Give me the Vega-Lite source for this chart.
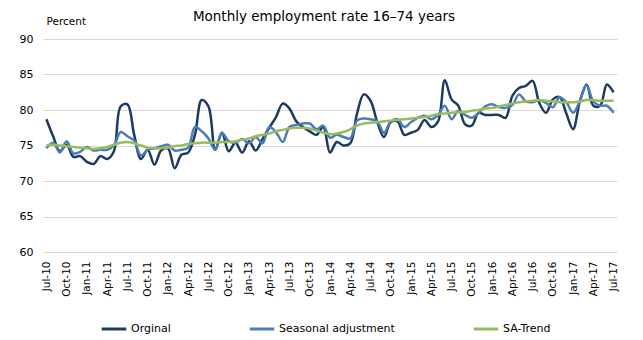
{
  "$schema": "https://vega.github.io/schema/vega-lite/v6.json",
  "autosize": {"type": "none"},
  "width": 574,
  "height": 213,
  "padding": {"left": 43, "top": 39, "right": 26, "bottom": 88},
  "background": "white",
  "title": {
    "text": "Monthly employment rate 16–74 years",
    "font": "DejaVu Sans",
    "fontSize": 13.5,
    "fontWeight": "normal",
    "color": "#000000",
    "anchor": "middle",
    "frame": "group",
    "offset": 14,
    "dx": -6,
    "dy": 21
  },
  "data": {
    "values": [
      {"m":"Jul-10","Orginal":78.7,"Seasonal adjustment":74.6,"SA-Trend":75.0},
      {"m":"Aug-10","Orginal":76.3,"Seasonal adjustment":75.4,"SA-Trend":75.1},
      {"m":"Sep-10","Orginal":74.2,"Seasonal adjustment":74.0,"SA-Trend":75.0},
      {"m":"Oct-10","Orginal":75.1,"Seasonal adjustment":75.6,"SA-Trend":74.9},
      {"m":"Nov-10","Orginal":73.4,"Seasonal adjustment":73.9,"SA-Trend":74.8},
      {"m":"Dec-10","Orginal":73.5,"Seasonal adjustment":74.1,"SA-Trend":74.7},
      {"m":"Jan-11","Orginal":72.7,"Seasonal adjustment":74.8,"SA-Trend":74.6},
      {"m":"Feb-11","Orginal":72.4,"Seasonal adjustment":74.3,"SA-Trend":74.5},
      {"m":"Mar-11","Orginal":73.5,"Seasonal adjustment":74.4,"SA-Trend":74.6},
      {"m":"Apr-11","Orginal":73.1,"Seasonal adjustment":74.4,"SA-Trend":74.8},
      {"m":"May-11","Orginal":74.2,"Seasonal adjustment":75.0,"SA-Trend":75.1},
      {"m":"Jun-11","Orginal":80.5,"Seasonal adjustment":76.9,"SA-Trend":75.4},
      {"m":"Jul-11","Orginal":80.8,"Seasonal adjustment":76.3,"SA-Trend":75.5},
      {"m":"Aug-11","Orginal":76.5,"Seasonal adjustment":75.7,"SA-Trend":75.3},
      {"m":"Sep-11","Orginal":73.1,"Seasonal adjustment":73.6,"SA-Trend":75.0},
      {"m":"Oct-11","Orginal":74.4,"Seasonal adjustment":74.4,"SA-Trend":74.7},
      {"m":"Nov-11","Orginal":72.3,"Seasonal adjustment":74.6,"SA-Trend":74.6},
      {"m":"Dec-11","Orginal":74.3,"Seasonal adjustment":74.9,"SA-Trend":74.6},
      {"m":"Jan-12","Orginal":74.6,"Seasonal adjustment":75.1,"SA-Trend":74.7},
      {"m":"Feb-12","Orginal":71.8,"Seasonal adjustment":74.3,"SA-Trend":74.9},
      {"m":"Mar-12","Orginal":73.7,"Seasonal adjustment":74.4,"SA-Trend":75.0},
      {"m":"Apr-12","Orginal":74.0,"Seasonal adjustment":74.7,"SA-Trend":75.2},
      {"m":"May-12","Orginal":76.5,"Seasonal adjustment":77.6,"SA-Trend":75.3},
      {"m":"Jun-12","Orginal":81.4,"Seasonal adjustment":77.0,"SA-Trend":75.4},
      {"m":"Jul-12","Orginal":80.5,"Seasonal adjustment":76.0,"SA-Trend":75.4},
      {"m":"Aug-12","Orginal":74.4,"Seasonal adjustment":74.4,"SA-Trend":75.4},
      {"m":"Sep-12","Orginal":76.8,"Seasonal adjustment":76.8,"SA-Trend":75.5},
      {"m":"Oct-12","Orginal":74.2,"Seasonal adjustment":75.6,"SA-Trend":75.5},
      {"m":"Nov-12","Orginal":75.4,"Seasonal adjustment":75.4,"SA-Trend":75.6},
      {"m":"Dec-12","Orginal":74.0,"Seasonal adjustment":75.9,"SA-Trend":75.8},
      {"m":"Jan-13","Orginal":75.6,"Seasonal adjustment":75.3,"SA-Trend":76.0},
      {"m":"Feb-13","Orginal":74.3,"Seasonal adjustment":76.2,"SA-Trend":76.3},
      {"m":"Mar-13","Orginal":75.9,"Seasonal adjustment":75.3,"SA-Trend":76.5},
      {"m":"Apr-13","Orginal":77.5,"Seasonal adjustment":77.6,"SA-Trend":76.7},
      {"m":"May-13","Orginal":79.0,"Seasonal adjustment":76.9,"SA-Trend":77.0},
      {"m":"Jun-13","Orginal":80.9,"Seasonal adjustment":75.5,"SA-Trend":77.2},
      {"m":"Jul-13","Orginal":80.2,"Seasonal adjustment":77.6,"SA-Trend":77.4},
      {"m":"Aug-13","Orginal":78.4,"Seasonal adjustment":77.9,"SA-Trend":77.5},
      {"m":"Sep-13","Orginal":77.6,"Seasonal adjustment":78.1,"SA-Trend":77.5},
      {"m":"Oct-13","Orginal":77.0,"Seasonal adjustment":78.1,"SA-Trend":77.4},
      {"m":"Nov-13","Orginal":76.5,"Seasonal adjustment":77.3,"SA-Trend":77.1},
      {"m":"Dec-13","Orginal":77.6,"Seasonal adjustment":77.8,"SA-Trend":76.8},
      {"m":"Jan-14","Orginal":74.0,"Seasonal adjustment":76.1,"SA-Trend":76.6},
      {"m":"Feb-14","Orginal":75.5,"Seasonal adjustment":76.5,"SA-Trend":76.7},
      {"m":"Mar-14","Orginal":75.0,"Seasonal adjustment":76.2,"SA-Trend":76.9},
      {"m":"Apr-14","Orginal":75.3,"Seasonal adjustment":76.0,"SA-Trend":77.3},
      {"m":"May-14","Orginal":79.5,"Seasonal adjustment":78.5,"SA-Trend":77.8},
      {"m":"Jun-14","Orginal":82.2,"Seasonal adjustment":78.8,"SA-Trend":78.1},
      {"m":"Jul-14","Orginal":81.3,"Seasonal adjustment":78.7,"SA-Trend":78.2},
      {"m":"Aug-14","Orginal":78.3,"Seasonal adjustment":78.4,"SA-Trend":78.3},
      {"m":"Sep-14","Orginal":76.2,"Seasonal adjustment":76.8,"SA-Trend":78.4},
      {"m":"Oct-14","Orginal":78.3,"Seasonal adjustment":78.4,"SA-Trend":78.5},
      {"m":"Nov-14","Orginal":78.4,"Seasonal adjustment":78.7,"SA-Trend":78.6},
      {"m":"Dec-14","Orginal":76.5,"Seasonal adjustment":77.6,"SA-Trend":78.7},
      {"m":"Jan-15","Orginal":76.8,"Seasonal adjustment":78.3,"SA-Trend":78.8},
      {"m":"Feb-15","Orginal":77.2,"Seasonal adjustment":78.9,"SA-Trend":78.9},
      {"m":"Mar-15","Orginal":78.6,"Seasonal adjustment":79.2,"SA-Trend":79.0},
      {"m":"Apr-15","Orginal":77.6,"Seasonal adjustment":78.7,"SA-Trend":79.2},
      {"m":"May-15","Orginal":78.4,"Seasonal adjustment":79.3,"SA-Trend":79.4},
      {"m":"Jun-15","Orginal":84.2,"Seasonal adjustment":80.6,"SA-Trend":79.5},
      {"m":"Jul-15","Orginal":81.5,"Seasonal adjustment":78.7,"SA-Trend":79.6},
      {"m":"Aug-15","Orginal":80.6,"Seasonal adjustment":79.9,"SA-Trend":79.7},
      {"m":"Sep-15","Orginal":78.0,"Seasonal adjustment":79.3,"SA-Trend":79.7},
      {"m":"Oct-15","Orginal":77.8,"Seasonal adjustment":78.9,"SA-Trend":79.9},
      {"m":"Nov-15","Orginal":79.6,"Seasonal adjustment":79.6,"SA-Trend":80.0},
      {"m":"Dec-15","Orginal":79.3,"Seasonal adjustment":80.5,"SA-Trend":80.2},
      {"m":"Jan-16","Orginal":79.3,"Seasonal adjustment":80.8,"SA-Trend":80.3},
      {"m":"Feb-16","Orginal":79.3,"Seasonal adjustment":80.4,"SA-Trend":80.5},
      {"m":"Mar-16","Orginal":78.9,"Seasonal adjustment":80.3,"SA-Trend":80.7},
      {"m":"Apr-16","Orginal":82.0,"Seasonal adjustment":80.7,"SA-Trend":80.9},
      {"m":"May-16","Orginal":83.1,"Seasonal adjustment":82.2,"SA-Trend":81.1},
      {"m":"Jun-16","Orginal":83.4,"Seasonal adjustment":81.2,"SA-Trend":81.2},
      {"m":"Jul-16","Orginal":84.1,"Seasonal adjustment":81.1,"SA-Trend":81.3},
      {"m":"Aug-16","Orginal":81.0,"Seasonal adjustment":81.4,"SA-Trend":81.4},
      {"m":"Sep-16","Orginal":79.6,"Seasonal adjustment":81.0,"SA-Trend":81.3},
      {"m":"Oct-16","Orginal":81.5,"Seasonal adjustment":80.4,"SA-Trend":81.2},
      {"m":"Nov-16","Orginal":81.8,"Seasonal adjustment":81.8,"SA-Trend":81.1},
      {"m":"Dec-16","Orginal":79.5,"Seasonal adjustment":81.1,"SA-Trend":81.1},
      {"m":"Jan-17","Orginal":77.3,"Seasonal adjustment":79.6,"SA-Trend":81.1},
      {"m":"Feb-17","Orginal":81.2,"Seasonal adjustment":81.3,"SA-Trend":81.2},
      {"m":"Mar-17","Orginal":83.6,"Seasonal adjustment":83.5,"SA-Trend":81.4},
      {"m":"Apr-17","Orginal":80.6,"Seasonal adjustment":81.2,"SA-Trend":81.4},
      {"m":"May-17","Orginal":80.6,"Seasonal adjustment":80.6,"SA-Trend":81.3},
      {"m":"Jun-17","Orginal":83.6,"Seasonal adjustment":80.6,"SA-Trend":81.3},
      {"m":"Jul-17","Orginal":82.5,"Seasonal adjustment":79.6,"SA-Trend":81.3}
    ]
  },
  "transform": [
    {"fold": ["Orginal", "Seasonal adjustment", "SA-Trend"], "as": ["series", "value"]}
  ],
  "mark": {"type": "line", "interpolate": "catmull-rom", "strokeWidth": 2.5, "clip": false},
  "encoding": {
    "x": {
      "field": "m",
      "type": "ordinal",
      "sort": null,
      "scale": {"type": "point", "padding": 0.5},
      "axis": {
        "title": null,
        "values": ["Jul-10","Oct-10","Jan-11","Apr-11","Jul-11","Oct-11","Jan-12","Apr-12","Jul-12","Oct-12","Jan-13","Apr-13","Jul-13","Oct-13","Jan-14","Apr-14","Jul-14","Oct-14","Jan-15","Apr-15","Jul-15","Oct-15","Jan-16","Apr-16","Jul-16","Oct-16","Jan-17","Apr-17","Jul-17"],
        "labelAngle": -90,
        "labelAlign": "right",
        "labelBaseline": "middle",
        "labelFont": "DejaVu Sans",
        "labelFontSize": 10.5,
        "labelColor": "#000000",
        "labelPadding": 9,
        "ticks": false,
        "domain": true,
        "domainColor": "#D9D9D9",
        "domainWidth": 1,
        "grid": false
      }
    },
    "y": {
      "field": "value",
      "type": "quantitative",
      "scale": {"domain": [60, 90], "nice": false, "zero": false},
      "axis": {
        "values": [60, 65, 70, 75, 80, 85, 90],
        "title": "Percent",
        "titleAngle": 0,
        "titleAlign": "left",
        "titleBaseline": "alphabetic",
        "titleX": 3,
        "titleY": -15,
        "titleFont": "DejaVu Sans",
        "titleFontSize": 10.5,
        "titleFontWeight": "normal",
        "titleColor": "#000000",
        "labelFont": "DejaVu Sans",
        "labelFontSize": 11,
        "labelColor": "#000000",
        "labelPadding": 10,
        "ticks": false,
        "domain": false,
        "grid": true,
        "gridColor": "#D9D9D9",
        "gridWidth": 1
      }
    },
    "color": {
      "field": "series",
      "type": "nominal",
      "scale": {
        "domain": ["Orginal", "Seasonal adjustment", "SA-Trend"],
        "range": ["#1F3A5F", "#4A7EBB", "#9BBB59"]
      },
      "legend": {
        "title": null,
        "orient": "none",
        "legendX": 57,
        "legendY": 276,
        "direction": "horizontal",
        "columns": 3,
        "columnPadding": 72,
        "symbolType": "stroke",
        "symbolSize": 600,
        "symbolStrokeWidth": 3,
        "labelFont": "DejaVu Sans",
        "labelFontSize": 11,
        "labelColor": "#000000",
        "labelOffset": 3
      }
    }
  },
  "config": {
    "view": {"stroke": null}
  }
}
